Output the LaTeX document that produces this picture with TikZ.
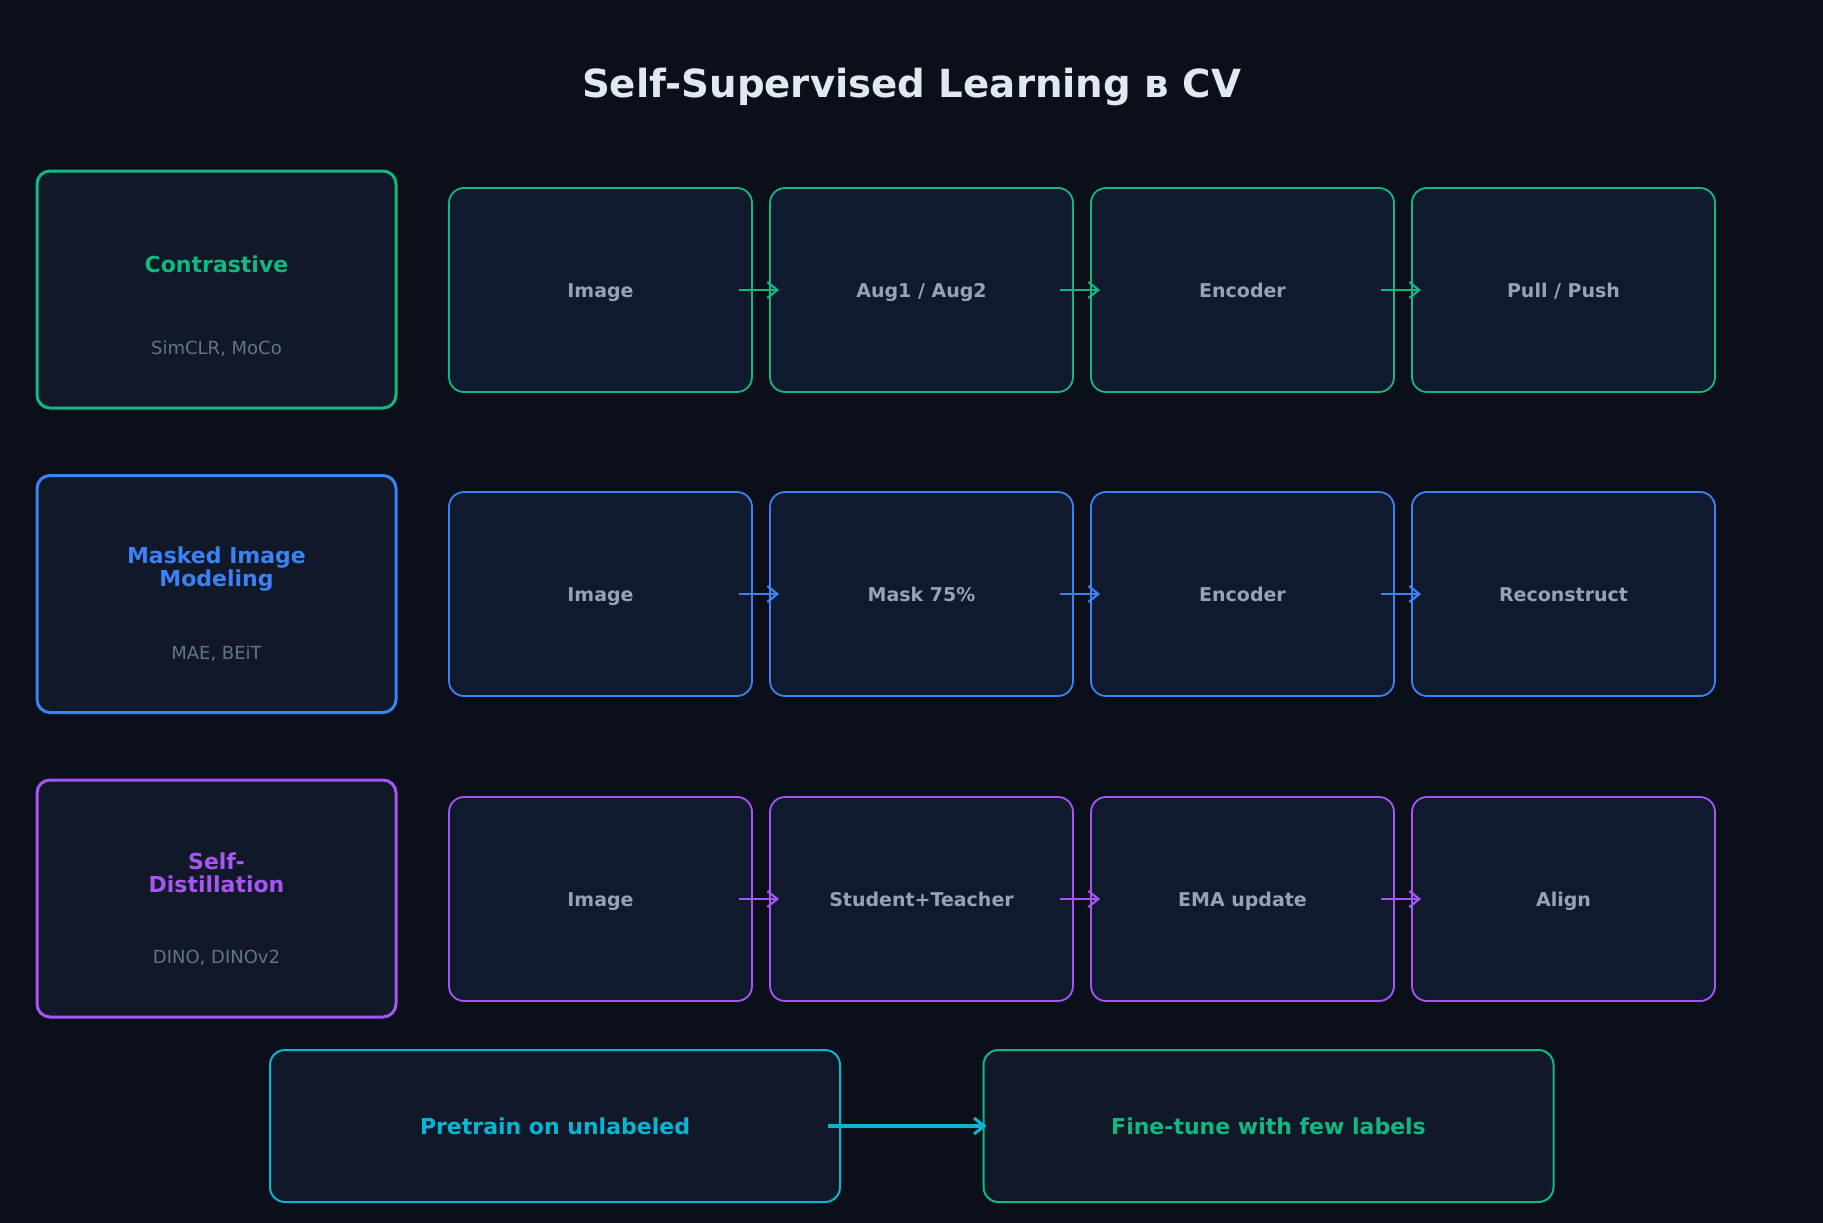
\documentclass[tikz,border=0pt]{standalone}
\usepackage{fontspec}
\setmainfont{DejaVu Sans}
\usetikzlibrary{arrows.meta}
\definecolor{bg}{HTML}{0B0F19}
\definecolor{cardfill}{HTML}{111827}
\definecolor{stepfill}{HTML}{0F1A2E}
\definecolor{cgreen}{HTML}{10B981}
\definecolor{cblue}{HTML}{3B82F6}
\definecolor{cpurple}{HTML}{A855F7}
\definecolor{ccyan}{HTML}{06B6D4}
\definecolor{steptext}{HTML}{94A3B8}
\definecolor{subtext}{HTML}{64748B}
\definecolor{titletext}{HTML}{E2E8F0}
\tikzset{
 catbox/.style={draw=#1, line width=3pt, fill=cardfill, rounded corners=13pt, minimum width=359pt, minimum height=237pt, inner sep=0pt},
 stepbox/.style={draw=#1, line width=1.8pt, fill=stepfill, rounded corners=15pt, minimum width=303pt, minimum height=204pt, inner sep=0pt, text=steptext, font=\fontsize{19}{23}\selectfont\bfseries, text height=14pt, text depth=0pt},
 cattitle/.style={text=#1, font=\fontsize{22}{23}\selectfont\bfseries, align=center, inner sep=0pt},
 catsub/.style={text=subtext, font=\fontsize{18}{22}\selectfont, inner sep=0pt},
 flow/.style={draw=#1, line width=2pt, -{Straight Barb[length=10pt,width=16pt,line width=2.2pt]}},
 phasebox/.style={draw=#1, line width=2pt, fill=cardfill, rounded corners=15pt, minimum width=570pt, minimum height=152pt, inner sep=0pt, text=#1, font=\fontsize{22}{26}\selectfont\bfseries, text height=16pt, text depth=0pt},
}
\begin{document}
\begin{tikzpicture}[x=1pt,y=-1pt]
\fill[bg] (0,0) rectangle (1823,1223);
\useasboundingbox (0,0) rectangle (1823,1223);

\node[text=titletext, font=\fontsize{38.7}{44}\selectfont\bfseries] (title) at (911.5,87) {Self-Supervised Learning в CV};

% Row 1
\node[catbox=cgreen] (c1) at (216.5,289.5) {};
\node[cattitle=cgreen] (c1t) at (216.5,264) {Contrastive};
\node[catsub] (c1s) at (216.5,349) {SimCLR, MoCo};
\node[stepbox=cgreen] (r1a) at (600.5,290) {Image};
\node[stepbox=cgreen] (r1b) at (921.5,290) {Aug1 / Aug2};
\node[stepbox=cgreen] (r1c) at (1242.5,290) {Encoder};
\node[stepbox=cgreen] (r1d) at (1563.5,290) {Pull / Push};
\draw[flow=cgreen] ([xshift=-14pt]r1a.east) -- ([xshift=10pt]r1b.west);
\draw[flow=cgreen] ([xshift=-14pt]r1b.east) -- ([xshift=10pt]r1c.west);
\draw[flow=cgreen] ([xshift=-14pt]r1c.east) -- ([xshift=10pt]r1d.west);

% Row 2
\node[catbox=cblue] (c2) at (216.5,594) {};
\node[cattitle=cblue] (c2t) at (216.5,569) {Masked Image\\Modeling};
\node[catsub] (c2s) at (216.5,653.5) {MAE, BEiT};
\node[stepbox=cblue] (r2a) at (600.5,594) {Image};
\node[stepbox=cblue] (r2b) at (921.5,594) {Mask 75\%};
\node[stepbox=cblue] (r2c) at (1242.5,594) {Encoder};
\node[stepbox=cblue] (r2d) at (1563.5,594) {Reconstruct};
\draw[flow=cblue] ([xshift=-14pt]r2a.east) -- ([xshift=10pt]r2b.west);
\draw[flow=cblue] ([xshift=-14pt]r2b.east) -- ([xshift=10pt]r2c.west);
\draw[flow=cblue] ([xshift=-14pt]r2c.east) -- ([xshift=10pt]r2d.west);

% Row 3
\node[catbox=cpurple] (c3) at (216.5,898.5) {};
\node[cattitle=cpurple] (c3t) at (216.5,873) {Self-\\Distillation};
\node[catsub] (c3s) at (216.5,958) {DINO, DINOv2};
\node[stepbox=cpurple] (r3a) at (600.5,899) {Image};
\node[stepbox=cpurple] (r3b) at (921.5,899) {Student+Teacher};
\node[stepbox=cpurple] (r3c) at (1242.5,899) {EMA update};
\node[stepbox=cpurple] (r3d) at (1563.5,899) {Align};
\draw[flow=cpurple] ([xshift=-14pt]r3a.east) -- ([xshift=10pt]r3b.west);
\draw[flow=cpurple] ([xshift=-14pt]r3b.east) -- ([xshift=10pt]r3c.west);
\draw[flow=cpurple] ([xshift=-14pt]r3c.east) -- ([xshift=10pt]r3d.west);

% Bottom
\node[phasebox=ccyan] (pre) at (555,1126) {Pretrain on unlabeled};
\node[phasebox=cgreen] (fine) at (1268.5,1126) {Fine-tune with few labels};
\draw[draw=ccyan, line width=3.3pt, -{Straight Barb[length=10pt,width=16pt,line width=3pt]}] ([xshift=-13pt]pre.east) -- ([xshift=4pt]fine.west);
\end{tikzpicture}
\end{document}
